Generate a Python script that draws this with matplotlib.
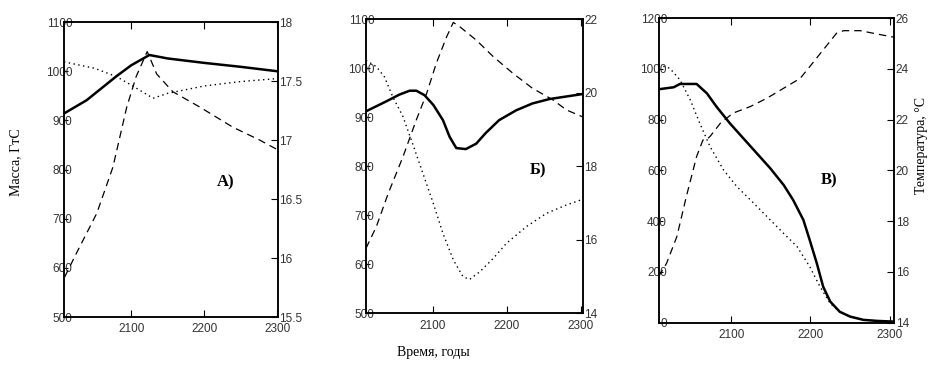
import numpy as np
import matplotlib
matplotlib.use("Agg")
import matplotlib.pyplot as plt

# panel A
a_solid_x = [2008, 2039, 2080, 2100, 2125, 2150, 2200, 2250, 2300]
a_solid_y = [914, 941, 990, 1012, 1033, 1026, 1017, 1009, 1000]
a_dot_x = [2008, 2050, 2080, 2100, 2130, 2150, 2200, 2250, 2300]
a_dot_y = [1019, 1006, 989, 972, 945, 955, 970, 979, 985]
a_dash_x = [2009, 2025, 2053, 2075, 2094, 2107, 2122, 2135, 2157, 2194, 2239, 2276, 2300]
a_dash_t = [15.84, 16.04, 16.38, 16.77, 17.28, 17.54, 17.75, 17.56, 17.41, 17.28, 17.11, 17.0, 16.92]

# panel B
b_solid_x = [2010, 2037, 2055, 2069, 2078, 2089, 2101, 2114, 2123, 2132, 2145, 2159,
             2172, 2190, 2213, 2235, 2258, 2280, 2302]
b_solid_y = [912, 932, 946, 954, 954, 945, 925, 894, 860, 837, 835, 846,
             868, 894, 914, 928, 937, 942, 947]
b_dot_x = [2010, 2024, 2035, 2046, 2060, 2073, 2087, 2101, 2114, 2128, 2141, 2150,
           2164, 2182, 2200, 2227, 2254, 2281, 2302]
b_dot_y = [1016, 1003, 982, 942, 901, 846, 785, 724, 663, 609, 575, 569,
           585, 612, 643, 677, 704, 721, 732]
b_dash_x = [2010, 2024, 2040, 2060, 2078, 2092, 2105, 2119, 2128, 2137, 2159, 2182,
            2209, 2235, 2263, 2281, 2302]
b_dash_t = [15.77, 16.36, 17.26, 18.26, 19.26, 19.98, 20.8, 21.52, 21.91, 21.79, 21.43, 20.98,
            20.52, 20.12, 19.8, 19.53, 19.35]

# panel C
c_solid_x = [2008, 2027, 2035, 2056, 2069, 2081, 2098, 2115, 2132, 2149, 2166, 2178,
             2191, 2199, 2208, 2216, 2225, 2237, 2250, 2267, 2284, 2306]
c_solid_y = [920, 928, 941, 941, 904, 852, 786, 727, 668, 609, 543, 484,
             405, 326, 234, 142, 83, 43, 24, 11, 7, 4]
c_dot_x = [2008, 2022, 2035, 2048, 2060, 2073, 2090, 2107, 2124, 2145, 2166, 2183,
           2199, 2212, 2225, 2237, 2250, 2267, 2284, 2306]
c_dot_y = [1016, 1003, 957, 878, 786, 694, 602, 536, 484, 418, 352, 300,
           221, 142, 76, 43, 24, 11, 7, 4]
c_dash_x = [2008, 2018, 2031, 2043, 2056, 2064, 2068, 2073, 2086, 2102, 2124, 2145,
            2166, 2187, 2199, 2216, 2233, 2242, 2263, 2284, 2306]
c_dash_t = [15.82, 16.34, 17.39, 18.97, 20.55, 21.2, 21.2, 21.34, 21.86, 22.26, 22.52, 22.85,
            23.24, 23.63, 24.09, 24.75, 25.41, 25.51, 25.51, 25.38, 25.25]

panels = [
    dict(rect=[0.0685, 0.1315, 0.229, 0.808], xlim=(2008, 2301),
         ylim=(500, 1100), yticks=np.arange(500, 1101, 100),
         tlim=(15.5, 18), tticks=[15.5, 16, 16.5, 17, 17.5, 18],
         solid=(a_solid_x, a_solid_y), dot=(a_dot_x, a_dot_y), dash=(a_dash_x, a_dash_t),
         label="А)", lpos=(0.242, 0.499)),
    dict(rect=[0.3919, 0.1416, 0.232, 0.806], xlim=(2010, 2303),
         ylim=(500, 1100), yticks=np.arange(500, 1101, 100),
         tlim=(14, 22), tticks=[14, 16, 18, 20, 22],
         solid=(b_solid_x, b_solid_y), dot=(b_dot_x, b_dot_y), dash=(b_dash_x, b_dash_t),
         label="Б)", lpos=(0.576, 0.534)),
    dict(rect=[0.7052, 0.116, 0.2523, 0.834], xlim=(2008, 2306),
         ylim=(0, 1200), yticks=np.arange(0, 1201, 200),
         tlim=(14, 26), tticks=[14, 16, 18, 20, 22, 24, 26],
         solid=(c_solid_x, c_solid_y), dot=(c_dot_x, c_dot_y), dash=(c_dash_x, c_dash_t),
         label="В)", lpos=(0.888, 0.507)),
]

tick_size = 8.5
tick_color = "#333333"

fig = plt.figure(figsize=(9.34, 3.65), dpi=100)

for p in panels:
    ax = fig.add_axes(p["rect"])
    ax.plot(*p["solid"], color="black", lw=1.8)
    ax.plot(*p["dot"], color="black", lw=1.0, linestyle=(0, (1, 2.5)))
    ax.set_xlim(*p["xlim"])
    ax.set_ylim(*p["ylim"])
    ax.set_yticks(p["yticks"])
    ax.set_xticks([2100, 2200, 2300])
    ax.tick_params(axis="x", direction="in", length=5, top=True, pad=4.5,
                   labelsize=tick_size, labelcolor=tick_color)
    ax.tick_params(axis="y", direction="in", length=3, pad=-6,
                   labelsize=tick_size, labelcolor=tick_color)
    for lbl in ax.get_xticklabels() + ax.get_yticklabels():
        lbl.set_fontfamily("Liberation Sans")

    tx = ax.twinx()
    tx.plot(*p["dash"], color="black", lw=0.9, linestyle=(0, (6, 4)))
    tx.set_ylim(*p["tlim"])
    tx.set_yticks(p["tticks"])
    tx.set_yticklabels([("%g" % t) for t in p["tticks"]])
    tx.tick_params(axis="y", direction="in", length=5, pad=1,
                   labelsize=tick_size, labelcolor=tick_color)
    for lbl in tx.get_yticklabels():
        lbl.set_fontfamily("Liberation Sans")
    for a in (ax, tx):
        for s in a.spines.values():
            s.set_linewidth(1.1)

    fig.text(p["lpos"][0], p["lpos"][1], p["label"], ha="center", va="center",
             fontsize=12, fontweight="bold", family="Liberation Serif")

fig.text(0.017, 0.555, "Масса, ГтС", rotation=90, ha="center", va="center",
         fontsize=10, family="Liberation Serif")
fig.text(0.464, 0.035, "Время, годы", ha="center", va="center",
         fontsize=10, family="Liberation Serif")
fig.text(0.987, 0.60, "Температура, °С", rotation=90, ha="center", va="center",
         fontsize=10, family="Liberation Serif")

fig.savefig("out.png", dpi=100)
